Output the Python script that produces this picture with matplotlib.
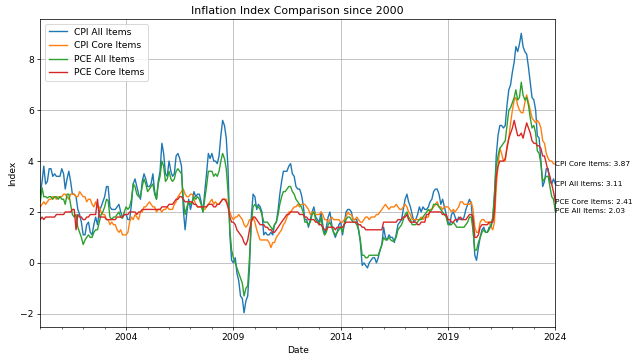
import matplotlib
matplotlib.use("Agg")
import matplotlib.pyplot as plt
import matplotlib.dates as mdates
import pandas as pd
import numpy as np

# Monthly year-over-year inflation (%), Jan 2000 .. Jan 2024
cpi_all = [
    2.7, 3.2, 3.8, 3.1, 3.2, 3.7, 3.7, 3.4, 3.5, 3.4, 3.4, 3.4,
    3.7, 3.5, 2.9, 3.3, 3.6, 3.2, 2.7, 2.7, 2.6, 2.1, 1.9, 1.6,
    1.1, 1.1, 1.5, 1.6, 1.2, 1.1, 1.5, 1.8, 1.5, 2.0, 2.2, 2.4,
    2.6, 3.0, 3.0, 2.2, 2.1, 2.1, 2.1, 2.2, 2.3, 2.0, 1.8, 1.9,
    1.9, 1.7, 1.7, 2.3, 3.1, 3.3, 3.0, 2.7, 2.5, 3.2, 3.5, 3.3,
    3.0, 3.0, 3.1, 3.5, 2.8, 2.5, 3.2, 3.6, 4.7, 4.3, 3.5, 3.4,
    4.0, 3.6, 3.4, 3.5, 4.2, 4.3, 4.1, 3.8, 2.1, 1.3, 2.0, 2.5,
    2.1, 2.4, 2.8, 2.6, 2.7, 2.7, 2.4, 2.0, 2.8, 3.5, 4.3, 4.1,
    4.3, 4.0, 4.0, 3.9, 4.2, 5.0, 5.6, 5.4, 4.9, 3.7, 1.1, 0.1,
    0.0, 0.2, -0.4, -0.7, -1.3, -1.4, -1.96, -1.5, -1.3, -0.2, 1.8, 2.7,
    2.6, 2.1, 2.3, 2.2, 2.0, 1.1, 1.2, 1.1, 1.1, 1.2, 1.1, 1.5,
    1.6, 2.1, 2.7, 3.2, 3.6, 3.6, 3.6, 3.8, 3.9, 3.5, 3.4, 3.0,
    2.9, 2.9, 2.7, 2.3, 1.7, 1.7, 1.4, 1.7, 2.0, 2.2, 1.8, 1.7,
    1.6, 2.0, 1.5, 1.1, 1.4, 1.8, 2.0, 1.5, 1.2, 1.0, 1.2, 1.5,
    1.6, 1.1, 1.5, 2.0, 2.1, 2.1, 2.0, 1.7, 1.7, 1.7, 1.3, 0.8,
    -0.1, 0.0, -0.1, -0.2, 0.0, 0.1, 0.2, 0.2, 0.0, 0.2, 0.5, 0.7,
    1.4, 1.0, 0.9, 1.1, 1.0, 1.0, 0.8, 1.1, 1.5, 1.6, 1.7, 2.1,
    2.5, 2.7, 2.4, 2.2, 1.9, 1.6, 1.7, 1.9, 2.2, 2.0, 2.2, 2.1,
    2.1, 2.2, 2.4, 2.5, 2.8, 2.9, 2.9, 2.7, 2.3, 2.5, 2.2, 1.9,
    1.6, 1.5, 1.9, 2.0, 1.8, 1.6, 1.8, 1.7, 1.7, 1.8, 2.1, 2.3,
    2.5, 2.3, 1.5, 0.3, 0.1, 0.6, 1.0, 1.3, 1.4, 1.2, 1.2, 1.4,
    1.4, 1.7, 2.6, 4.2, 5.0, 5.4, 5.4, 5.3, 5.4, 6.2, 6.8, 7.0,
    7.5, 7.9, 8.5, 8.3, 8.6, 9.02, 8.5, 8.3, 8.2, 7.7, 7.1, 6.5,
    6.4, 6.0, 5.0, 4.9, 4.0, 3.0, 3.2, 3.7, 3.7, 3.2, 3.1, 3.3,
    3.11,
]

cpi_core = [
    2.2, 2.3, 2.4, 2.3, 2.4, 2.5, 2.5, 2.6, 2.6, 2.5, 2.6, 2.6,
    2.6, 2.7, 2.7, 2.6, 2.5, 2.7, 2.7, 2.7, 2.6, 2.6, 2.8, 2.7,
    2.6, 2.6, 2.4, 2.5, 2.5, 2.3, 2.2, 2.4, 2.2, 2.2, 2.0, 1.9,
    1.9, 1.7, 1.7, 1.5, 1.6, 1.5, 1.5, 1.3, 1.2, 1.3, 1.1, 1.1,
    1.1, 1.2, 1.6, 1.8, 1.7, 1.9, 1.8, 1.7, 2.0, 2.0, 2.2, 2.2,
    2.3, 2.4, 2.3, 2.2, 2.2, 2.0, 2.1, 2.1, 2.0, 2.1, 2.1, 2.2,
    2.1, 2.1, 2.1, 2.3, 2.4, 2.6, 2.7, 2.8, 2.9, 2.7, 2.6, 2.6,
    2.7, 2.7, 2.5, 2.3, 2.2, 2.2, 2.2, 2.1, 2.1, 2.2, 2.3, 2.4,
    2.5, 2.3, 2.4, 2.3, 2.3, 2.4, 2.5, 2.5, 2.5, 2.2, 2.0, 1.8,
    1.7, 1.8, 1.8, 1.9, 1.8, 1.7, 1.5, 1.4, 1.5, 1.7, 1.7, 1.8,
    1.6, 1.3, 1.1, 0.9, 0.9, 0.9, 0.9, 0.9, 0.8, 0.6, 0.8, 0.8,
    1.0, 1.1, 1.2, 1.3, 1.5, 1.6, 1.8, 2.0, 2.0, 2.1, 2.2, 2.2,
    2.3, 2.2, 2.3, 2.3, 2.3, 2.2, 2.1, 1.9, 2.0, 2.0, 1.9, 1.9,
    1.9, 2.0, 1.9, 1.7, 1.7, 1.6, 1.7, 1.8, 1.7, 1.7, 1.7, 1.7,
    1.6, 1.6, 1.7, 1.8, 2.0, 1.9, 1.9, 1.7, 1.7, 1.8, 1.7, 1.6,
    1.6, 1.7, 1.8, 1.8, 1.7, 1.8, 1.8, 1.8, 1.9, 1.9, 2.0, 2.1,
    2.2, 2.3, 2.2, 2.1, 2.2, 2.2, 2.2, 2.3, 2.2, 2.1, 2.1, 2.2,
    2.3, 2.2, 2.0, 1.9, 1.7, 1.7, 1.7, 1.7, 1.7, 1.8, 1.7, 1.8,
    1.8, 1.8, 2.1, 2.1, 2.2, 2.3, 2.4, 2.2, 2.2, 2.1, 2.2, 2.2,
    2.2, 2.1, 2.0, 2.1, 2.0, 2.1, 2.2, 2.4, 2.4, 2.3, 2.3, 2.3,
    2.3, 2.4, 2.1, 1.4, 1.2, 1.2, 1.6, 1.7, 1.7, 1.6, 1.6, 1.6,
    1.4, 1.3, 1.6, 3.0, 3.8, 4.5, 4.3, 4.0, 4.0, 4.6, 4.9, 5.5,
    6.0, 6.4, 6.5, 6.2, 6.0, 5.9, 5.9, 6.3, 6.6, 6.3, 6.0, 5.7,
    5.6, 5.5, 5.6, 5.5, 5.3, 4.8, 4.7, 4.3, 4.1, 4.0, 4.0, 3.9,
    3.87,
]

pce_all = [
    2.4, 2.95, 2.6, 2.6, 2.55, 2.6, 2.6, 2.5, 2.6, 2.6, 2.5, 2.6,
    2.5, 2.5, 2.3, 2.7, 2.7, 2.3, 1.9, 1.8, 1.9, 1.4, 1.2, 1.0,
    0.72, 0.9, 1.0, 1.1, 1.0, 1.0, 1.2, 1.3, 1.3, 1.6, 1.9, 2.0,
    2.2, 2.5, 2.45, 1.8, 1.7, 1.8, 1.8, 1.9, 2.0, 1.8, 1.75, 2.0,
    2.2, 2.1, 2.2, 2.5, 3.1, 3.0, 2.7, 2.6, 2.6, 3.0, 3.3, 3.1,
    2.8, 2.9, 3.0, 3.1, 2.7, 2.5, 3.1, 3.4, 4.0, 3.8, 3.2, 3.3,
    3.6, 3.3, 3.2, 3.3, 3.6, 3.7, 3.6, 3.5, 2.5, 1.9, 2.2, 2.4,
    2.3, 2.4, 2.6, 2.5, 2.6, 2.5, 2.3, 2.0, 2.5, 3.0, 3.6, 3.6,
    3.6, 3.4, 3.5, 3.4, 3.6, 4.0, 4.3, 4.1, 3.7, 2.8, 1.3, 0.5,
    0.2, 0.0, -0.2, -0.4, -0.6, -0.8, -1.3, -1.0, -0.9, 0.2, 1.6, 2.2,
    2.3, 2.2, 2.2, 2.1, 1.9, 1.6, 1.6, 1.6, 1.5, 1.4, 1.3, 1.5,
    1.6, 1.9, 2.3, 2.6, 2.8, 2.8, 2.9, 3.0, 3.0, 2.8, 2.7, 2.5,
    2.4, 2.3, 2.2, 2.0, 1.6, 1.6, 1.5, 1.6, 1.9, 2.0, 1.7, 1.6,
    1.5, 1.8, 1.3, 1.1, 1.2, 1.5, 1.6, 1.4, 1.2, 1.1, 1.2, 1.3,
    1.4, 1.2, 1.5, 1.7, 1.8, 1.8, 1.7, 1.6, 1.6, 1.5, 1.3, 0.9,
    0.3, 0.3, 0.2, 0.2, 0.3, 0.3, 0.3, 0.3, 0.3, 0.3, 0.5, 0.7,
    1.0, 0.9, 0.9, 1.0, 0.9, 0.85, 0.9, 1.0, 1.3, 1.4, 1.5, 1.7,
    1.9, 2.0, 1.8, 1.7, 1.5, 1.5, 1.5, 1.6, 1.7, 1.7, 1.8, 1.9,
    2.0, 2.1, 2.0, 2.1, 2.3, 2.3, 2.3, 2.2, 2.1, 2.0, 1.9, 1.8,
    1.5, 1.5, 1.5, 1.6, 1.5, 1.4, 1.4, 1.4, 1.4, 1.4, 1.5, 1.6,
    1.8, 1.8, 1.3, 0.5, 0.5, 0.8, 1.0, 1.2, 1.3, 1.2, 1.2, 1.3,
    1.5, 1.8, 2.7, 3.8, 4.2, 4.5, 4.6, 4.7, 4.8, 5.4, 6.0, 6.1,
    6.3, 6.5, 6.8, 6.4, 6.5, 7.1, 6.6, 6.4, 6.5, 6.2, 5.7, 5.3,
    5.4, 5.1, 4.4, 4.3, 3.9, 3.2, 3.3, 3.4, 3.4, 3.0, 2.6, 2.5,
    2.03,
]

pce_core = [
    1.7, 1.8, 1.7, 1.8, 1.8, 1.8, 1.8, 1.8, 1.8, 1.9, 1.9, 1.9,
    1.9, 1.9, 2.0, 2.0, 2.0, 2.0, 2.1, 2.1, 1.3, 1.9, 1.8, 1.8,
    1.7, 1.7, 1.8, 1.8, 1.9, 1.9, 1.9, 1.9, 2.5, 1.8, 1.8, 1.8,
    1.8, 1.7, 1.7, 1.7, 1.7, 1.7, 1.7, 1.8, 1.8, 1.8, 1.8, 1.9,
    1.9, 1.9, 2.0, 2.0, 2.0, 2.0, 1.9, 2.0, 2.0, 2.1, 2.1, 2.1,
    2.1, 2.1, 2.1, 2.1, 2.1, 2.1, 2.1, 2.1, 2.2, 2.2, 2.2, 2.2,
    2.3, 2.3, 2.3, 2.4, 2.5, 2.5, 2.6, 2.6, 2.5, 2.4, 2.4, 2.4,
    2.4, 2.4, 2.3, 2.3, 2.2, 2.2, 2.2, 2.2, 2.2, 2.2, 2.3, 2.3,
    2.3, 2.2, 2.2, 2.3, 2.3, 2.4, 2.5, 2.5, 2.4, 2.2, 1.8, 1.6,
    1.6, 1.5, 1.3, 1.2, 1.1, 1.0, 0.8, 0.7, 0.9, 1.3, 1.6, 1.8,
    1.8, 1.7, 1.6, 1.5, 1.5, 1.5, 1.4, 1.4, 1.3, 1.3, 1.2, 1.2,
    1.3, 1.4, 1.5, 1.6, 1.7, 1.8, 1.9, 1.9, 2.0, 2.0, 2.0, 2.0,
    2.0, 1.9, 1.9, 1.9, 1.8, 1.8, 1.7, 1.7, 1.7, 1.7, 1.6, 1.6,
    1.5, 1.5, 1.4, 1.3, 1.3, 1.4, 1.4, 1.4, 1.4, 1.3, 1.4, 1.4,
    1.4, 1.4, 1.5, 1.6, 1.6, 1.6, 1.6, 1.6, 1.6, 1.6, 1.5, 1.5,
    1.4, 1.4, 1.3, 1.3, 1.3, 1.3, 1.3, 1.3, 1.3, 1.3, 1.3, 1.3,
    1.6, 1.6, 1.6, 1.6, 1.6, 1.6, 1.6, 1.6, 1.7, 1.7, 1.7, 1.8,
    1.8, 1.9, 1.7, 1.6, 1.6, 1.6, 1.6, 1.5, 1.5, 1.6, 1.6, 1.6,
    1.9, 1.9, 2.0, 2.0, 2.0, 2.0, 2.0, 2.0, 2.0, 1.9, 1.9, 1.9,
    1.7, 1.7, 1.6, 1.6, 1.7, 1.7, 1.7, 1.8, 1.7, 1.7, 1.7, 1.8,
    1.9, 1.9, 1.8, 1.0, 1.0, 1.1, 1.4, 1.5, 1.5, 1.5, 1.5, 1.6,
    1.6, 1.6, 2.0, 3.4, 3.8, 4.0, 4.0, 4.0, 4.1, 4.5, 4.9, 5.1,
    5.3, 5.6, 5.3, 5.0, 5.0, 5.1, 4.9, 5.2, 5.5, 5.3, 5.1, 4.8,
    4.7, 4.7, 4.6, 4.6, 4.5, 4.2, 4.2, 3.9, 3.6, 3.4, 3.1, 2.8,
    2.41,
]

series_names = ["CPI All Items", "CPI Core Items", "PCE All Items", "PCE Core Items"]
series_values = [cpi_all, cpi_core, pce_all, pce_core]
series_colors = ["#1f77b4", "#ff7f0e", "#2ca02c", "#d62728"]
major_years = [2004, 2009, 2014, 2019, 2024]

dates = pd.date_range("2000-01-01", "2024-01-01", freq="MS")
for v in series_values:
    assert len(v) == len(dates), len(v)

DPI = 66
fig = plt.figure(figsize=(639 / DPI, 362 / DPI), dpi=DPI)
ax = fig.add_axes([0.063, 0.0975, 0.806, 0.849])

for name, vals, col in zip(series_names, series_values, series_colors):
    ax.plot(dates, vals, color=col, label=name)

for name, vals in zip(series_names, series_values):
    ax.text(dates[-1], vals[-1], f"{name}: {vals[-1]:.2f}", fontsize=8,
            va="center", ha="left")

ax.set_xlim(dates[0], dates[-1])
ax.set_xticks([pd.Timestamp(f"{y}-01-01") for y in major_years])
ax.xaxis.set_major_formatter(mdates.DateFormatter("%Y"))
ax.xaxis.set_minor_locator(mdates.YearLocator(1))
ax.grid(True, which="major")
ax.set_title("Inflation Index Comparison since 2000")
ax.set_xlabel("Date")
ax.set_ylabel("Index")
ax.legend(loc="upper left")

fig.savefig("out.png", dpi=DPI)
